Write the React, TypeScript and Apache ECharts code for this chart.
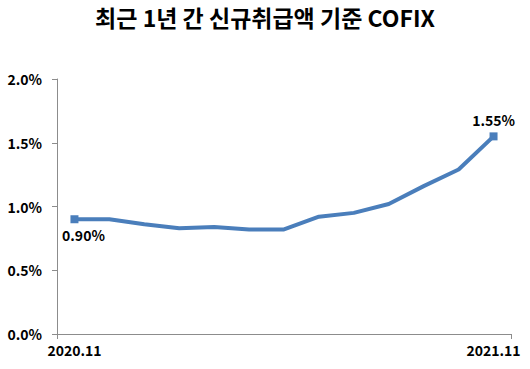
import React, { useEffect, useRef } from "react";
import * as echarts from "echarts";

const categories = ["2020.11", "2020.12", "2021.01", "2021.02", "2021.03", "2021.04", "2021.05", "2021.06", "2021.07", "2021.08", "2021.09", "2021.10", "2021.11"];
const cofix = [0.90, 0.90, 0.86, 0.83, 0.84, 0.82, 0.82, 0.92, 0.95, 1.02, 1.16, 1.29, 1.55];
const shownXLabels = ["2020.11", "2021.11"];
const titleText = "최근 1년 간 신규취급액 기준 COFIX";

const FONT = '"Noto Sans CJK KR", "Noto Sans", sans-serif';
const LINE_COLOR = "#4a7ebb";

export default function App() {
  const ref = useRef<HTMLDivElement>(null);
  useEffect(() => {
    document.body.style.margin = "0";
    const chart = echarts.init(ref.current!, null, { renderer: "svg" });
    const last = cofix.length - 1;
    const data = cofix.map((v, i) => {
      if (i === 0) {
        return {
          value: v,
          symbol: "rect",
          symbolSize: 8,
          label: { show: true, position: "bottom", offset: [9, 0], formatter: (p: any) => p.value.toFixed(2) + "%" },
        };
      }
      if (i === last) {
        return {
          value: v,
          symbol: "rect",
          symbolSize: 8,
          label: { show: true, position: "top", offset: [0, 0], formatter: (p: any) => p.value.toFixed(2) + "%" },
        };
      }
      return { value: v, symbol: "none", symbolSize: 0 };
    });
    chart.setOption({
      animation: false,
      title: {
        text: titleText,
        left: "center",
        top: 4,
        padding: [0, 0, 0, 18],
        textStyle: { fontFamily: FONT, fontWeight: "bold", fontSize: 23, lineHeight: 26, color: "#000" },
      },
      grid: { left: 57, right: 19, top: 79, bottom: 35, containLabel: false },
      xAxis: [
        {
          type: "category",
          data: categories,
          boundaryGap: true,
          axisLine: { lineStyle: { color: "#8c8c8c", width: 1 } },
          axisTick: { show: false },
          axisLabel: {
            interval: 0,
            formatter: (v: string) => (shownXLabels.includes(v) ? v : ""),
            fontFamily: FONT,
            fontWeight: "bold",
            fontSize: 14,
            color: "#000",
            margin: 9,
          },
        },
        {
          type: "value",
          position: "bottom",
          min: 0,
          max: 1,
          interval: 1,
          axisLine: { show: false },
          axisTick: { show: true, length: 5, lineStyle: { color: "#8c8c8c" } },
          axisLabel: { show: false },
          splitLine: { show: false },
        },
      ],
      yAxis: {
        type: "value",
        min: 0,
        max: 2,
        interval: 0.5,
        axisLine: { show: true, lineStyle: { color: "#8c8c8c", width: 1 } },
        axisTick: { show: true, length: 5, lineStyle: { color: "#8c8c8c" } },
        splitLine: { show: false },
        axisLabel: {
          formatter: (v: number) => v.toFixed(1) + "%",
          fontFamily: FONT,
          fontWeight: "bold",
          fontSize: 14,
          color: "#000",
          margin: 15,
        },
      },
      series: [
        {
          type: "line",
          xAxisIndex: 0,
          data,
          showAllSymbol: true,
          lineStyle: { color: LINE_COLOR, width: 4 },
          itemStyle: { color: LINE_COLOR },
          label: { fontFamily: FONT, fontWeight: "bold", fontSize: 14, color: "#000" },
        },
      ],
    });
    return () => chart.dispose();
  }, []);
  return <div ref={ref} style={{ width: 530, height: 369 }} />;
}
